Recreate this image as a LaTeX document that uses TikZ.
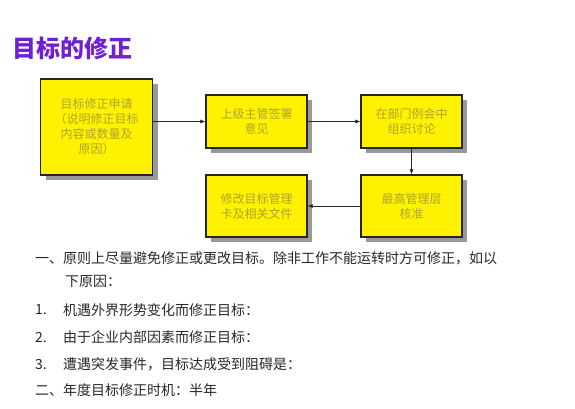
\documentclass[tikz,border=0pt]{standalone}
\usepackage{fontspec}
\newfontfamily\cjk{Noto Sans CJK SC}
\usetikzlibrary{shadows,arrows.meta}
\definecolor{titlepurple}{RGB}{112,32,208}
\definecolor{boxtext}{RGB}{175,165,45}
\definecolor{bodytext}{RGB}{40,40,40}
\begin{document}
\begin{tikzpicture}[x=1pt,y=-1pt,
  flowbox/.style={draw=black!85, line width=1.2pt, fill=yellow, inner sep=0pt,
    drop shadow={shadow xshift=5pt, shadow yshift=-5pt, fill=black!40, opacity=1},
    text=boxtext, font=\cjk\fontsize{12}{15}\selectfont, align=center},
  conn/.style={-{Latex[length=5pt,width=4pt]}, line width=0.6pt, black!85},
  body/.style={anchor=west, inner sep=0pt, text=bodytext, font=\cjk\fontsize{14}{16}\selectfont}]
\useasboundingbox (0,0) rectangle (575,408);
\fill[white] (0,0) rectangle (575,408);
\node[anchor=west, inner sep=0pt, text=titlepurple, font=\cjk\bfseries\fontsize{24}{28}\selectfont] (title) at (12,48) {目标的修正};
\node[flowbox, minimum width=112pt, minimum height=96pt] (b1) at (96.5,127) {目标修正申请\\（说明修正目标\\内容或数量及\\原因）};
\node[flowbox, minimum width=101pt, minimum height=53pt] (b2) at (256.5,121.5) {上级主管签署\\意见};
\node[flowbox, minimum width=101pt, minimum height=53pt] (b3) at (411.5,121.5) {在部门例会中\\组织讨论};
\node[flowbox, minimum width=101pt, minimum height=62pt] (b4) at (256.5,206) {修改目标管理\\卡及相关文件};
\node[flowbox, minimum width=101pt, minimum height=62pt] (b5) at (411.5,206) {最高管理层\\核准};
\draw[conn] (b1.east |- b2.west) -- (b2.west);
\draw[conn] (b2.east) -- (b3.west);
\draw[conn] (b3.south) -- (b5.north);
\draw[conn] (b5.west) -- (b4.east);
\node[body] (t1) at (35,258) {一、原则上尽量避免修正或更改目标。除非工作不能运转时方可修正，如以};
\node[body] (t2) at (65,281) {下原因：};
\node[body] (n1) at (35,310) {1.};
\node[body] (l1) at (63,310) {机遇外界形势变化而修正目标：};
\node[body] (n2) at (35,337) {2.};
\node[body] (l2) at (63,337) {由于企业内部因素而修正目标：};
\node[body] (n3) at (35,364) {3.};
\node[body] (l3) at (63,364) {遭遇突发事件，目标达成受到阻碍是：};
\node[body] (t3) at (35,390) {二、年度目标修正时机：半年};
\end{tikzpicture}
\end{document}
